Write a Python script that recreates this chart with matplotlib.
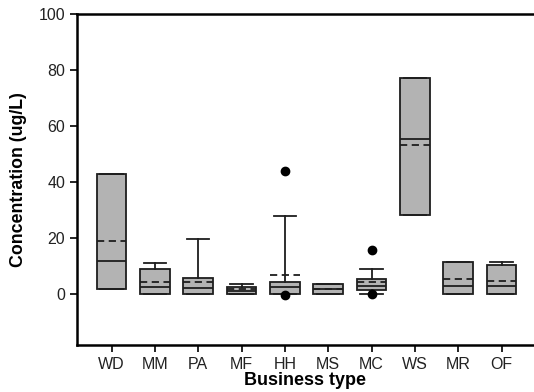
import matplotlib.pyplot as plt

plt.rcParams['font.family'] = ['Liberation Sans', 'DejaVu Sans']

categories = ['WD', 'MM', 'PA', 'MF', 'HH', 'MS', 'MC', 'WS', 'MR', 'OF']
q1 = [1.8, 0.2, 0.1, 0.2, 0.2, 0.0, 1.5, 28.5, 0.2, 0.2]
medians = [12.1, 2.6, 2.4, 1.4, 2.8, 1.8, 3.0, 55.4, 3.2, 3.2]
q3 = [42.8, 9.2, 6.0, 2.6, 4.3, 3.6, 5.6, 77.1, 11.6, 10.4]
means = [19.0, 4.4, 4.3, 1.8, 7.1, 1.9, 4.4, 53.4, 5.6, 4.7]
whis_lo = [1.8, 0.0, 0.0, 0.1, 0.2, 0.0, 0.1, 28.5, 0.2, 0.2]
whis_hi = [42.8, 11.3, 19.9, 3.7, 28.1, 3.6, 9.1, 77.1, 11.6, 11.7]
outliers = [[], [], [], [], [44.1, -0.3], [], [15.7, 0.1], [], [], []]

stats = []
for i, name in enumerate(categories):
    stats.append(dict(label=name, q1=q1[i], med=medians[i], q3=q3[i],
                      mean=means[i], whislo=whis_lo[i], whishi=whis_hi[i],
                      fliers=outliers[i]))

fig = plt.figure(figsize=(5.34, 3.92), dpi=100)
ax = fig.add_axes([0.144, 0.12, 0.856, 0.844])

edge = '#1e1e1e'
ax.bxp(stats, positions=range(1, 11), widths=0.68, capwidths=0.52,
       patch_artist=True, showmeans=True, meanline=True,
       boxprops=dict(facecolor='#b3b3b3', edgecolor=edge, linewidth=1.3),
       medianprops=dict(color=edge, linewidth=1.3),
       meanprops=dict(color=edge, linestyle=(0, (4, 2.5)), linewidth=1.3),
       whiskerprops=dict(color=edge, linewidth=1.3),
       capprops=dict(color=edge, linewidth=1.3),
       flierprops=dict(marker='o', markerfacecolor='black',
                       markeredgecolor='black', markersize=6))

ax.set_xlim(0.2, 10.75)
ax.set_ylim(-18, 100)
ax.set_yticks([0, 20, 40, 60, 80, 100])
ax.set_xticks(range(1, 11))
ax.set_xticklabels(categories)

for s in ['left', 'bottom', 'top']:
    ax.spines[s].set_linewidth(1.8)
ax.spines['right'].set_visible(False)
ax.tick_params(direction='out', length=5, width=1.2, labelsize=11.5,
               colors='black', labelcolor='#222222')

ax.set_ylabel('Concentration (ug/L)', fontsize=12.8, fontweight='bold',
              labelpad=8)
ax.set_xlabel('Business type', fontsize=13, fontweight='bold', labelpad=0)

fig.savefig('out.png', dpi=100)
